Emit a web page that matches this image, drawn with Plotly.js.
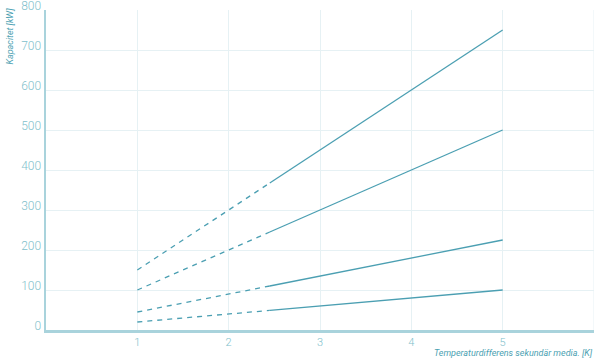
<!DOCTYPE html>
<html><head><meta charset="utf-8">
<script src="https://cdn.plot.ly/plotly-3.0.1.min.js"></script>
<style>body{margin:0;background:#fff}#c{width:600px;height:359px}</style>
</head><body><div id="c"></div>
<script>
// Temperature difference [K]
const xDashed = [1, 2.45];
const xSolid = [2.45, 5];
// Capacity [kW] per curve
const c1Dashed = [150, 367.5], c1Solid = [367.5, 750];
const c2Dashed = [100, 245],   c2Solid = [245, 500];
const c3Dashed = [45, 110],    c3Solid = [110, 225];
const c4Dashed = [20, 49],     c4Solid = [49, 100];
const xTicks = [1, 2, 3, 4, 5];
const yTicks = [0, 100, 200, 300, 400, 500, 600, 700, 800];

const lineColor = '#4b9fb2';
const curves = [[c1Dashed, c1Solid], [c2Dashed, c2Solid], [c3Dashed, c3Solid], [c4Dashed, c4Solid]];
const traces = [];
curves.forEach(([d, s]) => {
  traces.push({x: xDashed, y: d, mode: 'lines', line: {color: lineColor, width: 1.3, dash: '5px,5px'}, hoverinfo: 'skip'});
  traces.push({x: xSolid, y: s, mode: 'lines', line: {color: lineColor, width: 1.3}, hoverinfo: 'skip'});
});

const tickFont = {family: 'Roboto, sans-serif', size: 12, color: '#82bfcc', weight: 300};
const xTickFont = {family: 'Roboto, sans-serif', size: 11, color: '#82bfcc', weight: 300};
const layout = {
  width: 600, height: 359,
  margin: {l: 46, r: 6, t: 10, b: 29},
  paper_bgcolor: '#fff', plot_bgcolor: '#fff',
  showlegend: false,
  xaxis: {
    range: [0, 6], tickvals: xTicks, ticktext: xTicks.map(String),
    showgrid: true, gridcolor: '#e6f1f4', gridwidth: 1,
    showline: true, linecolor: '#a9d3dc', linewidth: 2.5,
    zeroline: false, ticks: '', tickfont: xTickFont, fixedrange: true
  },
  yaxis: {
    range: [0, 800], tickvals: yTicks, ticktext: yTicks.map(String),
    showgrid: true, gridcolor: '#e6f1f4', gridwidth: 1,
    showline: true, linecolor: '#a9d3dc', linewidth: 2.5,
    zeroline: false, ticks: '', tickfont: tickFont, ticklabelshift: -4,
    ticklabeloverflow: 'allow', fixedrange: true
  },
  shapes: [
    {type: 'line', xref: 'x', yref: 'paper', x0: 6, x1: 6, y0: 0, y1: 1, line: {color: '#e6f1f4', width: 1}}
  ],
  annotations: [
    {text: 'Kapacitet [kW]', xref: 'paper', yref: 'paper', x: -0.066, y: 1.015, xanchor: 'center', yanchor: 'top',
     textangle: -90, showarrow: false, font: {family: 'Roboto, sans-serif', size: 9, color: '#4b9fb2', style: 'italic'}},
    {text: 'Temperaturdifferens sekundär media. [K]', xref: 'paper', yref: 'paper', x: 1, y: -0.0906, xanchor: 'right', yanchor: 'bottom',
     borderpad: 0, showarrow: false, font: {family: 'Roboto, sans-serif', size: 9, color: '#4b9fb2', style: 'italic'}}
  ]
};
Plotly.newPlot('c', traces, layout, {displayModeBar: false, staticPlot: true});
</script>
</body></html>
